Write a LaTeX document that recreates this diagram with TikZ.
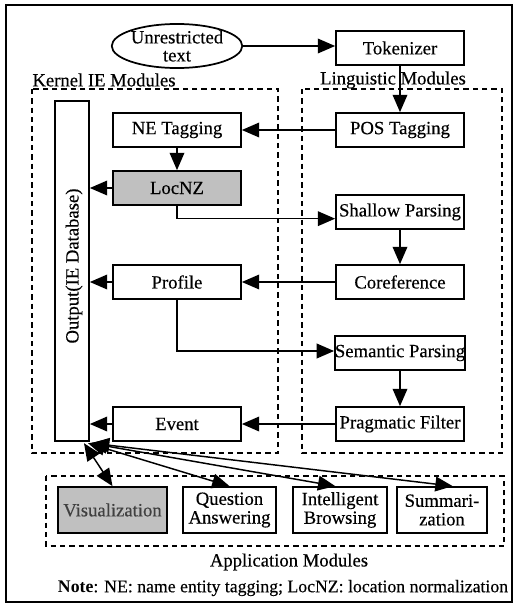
\documentclass[tikz,border=0pt]{standalone}
\usepackage{fontspec}
\setmainfont{Liberation Serif}[UprightFeatures={FakeBold=0.35}]
\usetikzlibrary{arrows.meta,shapes.geometric,calc}
\definecolor{boxgray}{HTML}{C0C0C0}
\begin{document}
\begin{tikzpicture}[x=0.75pt,y=-0.75pt,
  font=\fontsize{14}{15}\selectfont,
  box/.style={draw,line width=1.3pt,minimum width=96pt,minimum height=25.5pt,inner sep=0pt,align=center},
  appbox/.style={draw,line width=1.3pt,minimum height=34.5pt,inner sep=0pt,align=center},
  arr/.style={line width=1.1pt,-{Triangle[length=13pt,width=11pt]}},
  darr/.style={line width=1.1pt,{Triangle[length=13pt,width=11pt]}-{Triangle[length=13pt,width=11pt]}},
  dbox/.style={draw,line width=1pt,dash pattern=on 4pt off 3pt},
  lab/.style={inner sep=0pt}]
\useasboundingbox (0,0) rectangle (518,607);
% outer frame
\draw[line width=1.4pt] (6,5) rectangle (512,602);
% dashed module boxes
\draw[dbox] (32,89) rectangle (278,453);
\draw[dbox] (302,89) rectangle (502,453);
\draw[dbox] (46,476) rectangle (504,546);
% labels
\node[lab] (klab) at (104,80) {Kernel IE Modules};
\node[lab] (llab) at (393,80) {Linguistic Modules};
\node[lab] (alab) at (289,562) {Application Modules};
\node[lab,font=\fontsize{13.3}{15}\selectfont] (note) at (283,588) {\textbf{Note}: NE: name entity tagging; LocNZ: location normalization};
% nodes
\node[draw,ellipse,line width=1.3pt,minimum width=96pt,minimum height=28.5pt,inner sep=0pt,align=center,font=\fontsize{14}{13.5}\selectfont] (ell) at (177,46) {Unrestricted\\text};
\node[box] (tok) at (400,48) {Tokenizer};
\node[box] (pos) at (400,130) {POS Tagging};
\node[box] (ne) at (177,130) {NE Tagging};
\node[box,fill=boxgray] (loc) at (177,188) {LocNZ};
\node[box] (shallow) at (400,212) {Shallow Parsing};
\node[box] (coref) at (400,282) {Coreference};
\node[box] (profile) at (177,282) {Profile};
\node[box] (sem) at (400,353) {Semantic Parsing};
\node[box] (prag) at (400,424) {Pragmatic Filter};
\node[box] (event) at (177,424) {Event};
\node[draw,line width=1.3pt,minimum width=25.5pt,minimum height=255pt,inner sep=0pt] (out) at (72,271) {};
\node[lab,rotate=90] (outlab) at (74,266) {Output(IE Database)};
\node[appbox,fill=boxgray,minimum width=81.75pt,text=black!75] (vis) at (112.5,510) {Visualization};
\node[appbox,minimum width=69.75pt,font=\fontsize{14}{14}\selectfont] (qa) at (229.5,510) {Question\\Answering};
\node[appbox,minimum width=70.5pt,font=\fontsize{14}{14}\selectfont] (ib) at (340,510) {Intelligent\\Browsing};
\node[appbox,minimum width=67.5pt,font=\fontsize{14}{14}\selectfont] (summ) at (442,510) {Summari-\\zation};
% connectors
\draw[arr] (ell.east) -- (ell.east -| tok.west);
\draw[arr] (tok.south) -- (pos.north);
\draw[arr] (pos.west) -- (ne.east);
\draw[arr] (ne.south) -- (loc.north);
\draw[arr] (loc.west) -- (loc.west -| out.east);
\draw[arr] (loc.south) |- ([yshift=-5pt]shallow.west);
\draw[arr] (shallow.south) -- (coref.north);
\draw[arr] (coref.west) -- (profile.east);
\draw[arr] (profile.west) -- (profile.west -| out.east);
\draw[arr] (profile.south) |- ([yshift=1.5pt]sem.west);
\draw[arr] (sem.south) -- (prag.north);
\draw[arr] (prag.west) -- (event.east);
\draw[arr] (event.west) -- (event.west -| out.east);
\draw[darr] ([xshift=9pt,yshift=-1pt]out.south) -- (vis.north);
\draw[darr] ([xshift=12pt,yshift=-1pt]out.south) -- (qa.north);
\draw[darr] ([xshift=13.5pt,yshift=-1pt]out.south) -- ([xshift=-3.5pt]ib.north);
\draw[darr] ([xshift=15pt,yshift=-1pt]out.south) -- ([xshift=8pt]summ.north);
\end{tikzpicture}
\end{document}
